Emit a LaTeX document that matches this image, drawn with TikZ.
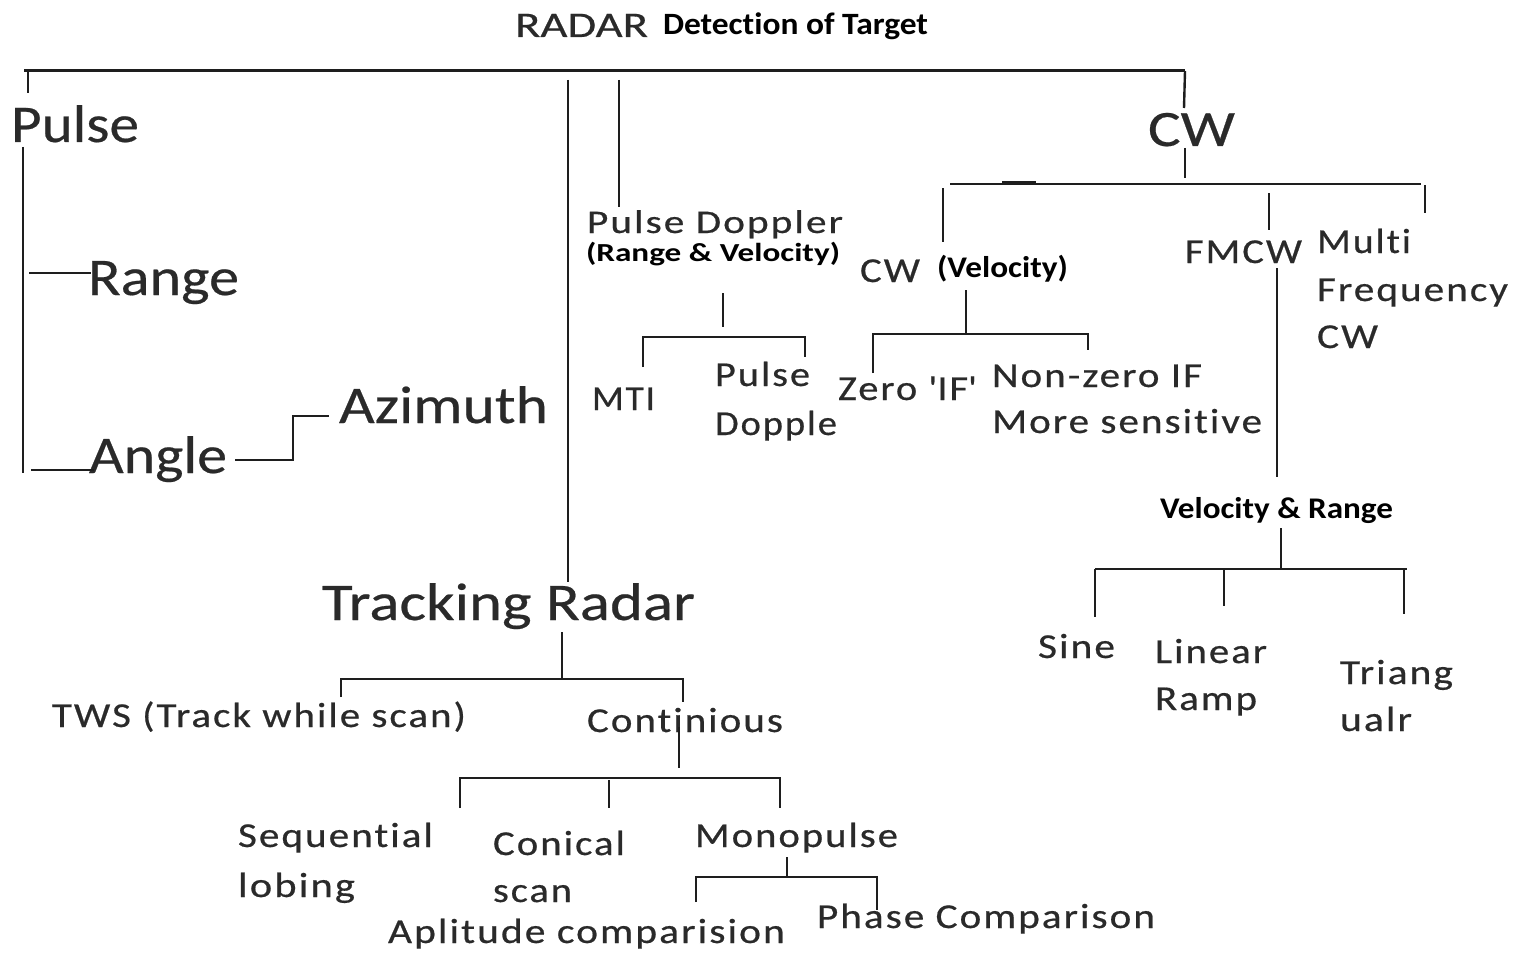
\documentclass[tikz,border=0pt]{standalone}
\usepackage{fontspec}
\usepackage{graphicx}
\setmainfont{Carlito}[Ligatures=NoCommon]
\newfontfamily\medf{Carlito}[LetterSpace=5, Ligatures=NoCommon, FakeBold=0.5]
\newfontfamily\bigf{Carlito}[Ligatures=NoCommon, FakeBold=0.4]
\newcommand\fw[2]{\resizebox{#1pt}{\height}{#2}}
\newcommand\fsz[1]{\fontsize{#1}{#1}\selectfont}
\definecolor{txtc}{HTML}{2A2A2A}
\definecolor{linec}{HTML}{1E1E1E}
\tikzset{
  lbl/.style={anchor=base west, inner sep=0pt, outer sep=0pt, text=txtc},
  bigt/.style={lbl, font=\bigf\fsz{53}},
  medt/.style={lbl, font=\medf\fsz{35}},
  boldt/.style={lbl, text=black},
  conn/.style={draw=linec, line width=2.4pt, line cap=butt, line join=miter},
}
\begin{document}
\begin{tikzpicture}[x=1pt,y=-1pt]
\fill[white] (0,0) rectangle (1515,955);
\useasboundingbox (0,0) rectangle (1515,955);

% ---------- text ----------
\node[lbl, font=\bigf\fsz{36}] (radar) at (515,37) {\fw{133}{RADAR}};
\node[boldt, font=\bfseries\fsz{31}] (det) at (663,35) {\fw{265}{Detection of Target}};

\node[bigt] (pulse) at (11,142) {\fw{128}{Pulse}};
\node[bigt] (range) at (88,295) {\fw{151}{Range}};
\node[bigt] (angle) at (89,473) {\fw{138}{Angle}};
\node[bigt] (azim) at (339,423) {\fw{209}{Azimuth}};
\node[bigt] (track) at (322,620) {\fw{373}{Tracking Radar}};
\node[lbl, font=\bigf\fsz{51}] (cw) at (1148,146) {\fw{87}{CW}};

\node[medt, font=\medf\fsz{33}] (pd) at (587,233) {\fw{256}{Pulse Doppler}};
\node[boldt, font=\bfseries\fsz{26}] (pdrv) at (586,261) {\fw{254}{(Range \& Velocity)}};
\node[medt] (mti) at (592,410) {\fw{63}{MTI}};
\node[medt] (pd2a) at (715,386) {\fw{95}{Pulse}};
\node[medt] (pd2b) at (715,435) {\fw{122}{Dopple}};

\node[medt] (cwv) at (860,282) {\fw{60}{CW}};
\node[boldt, font=\bfseries\fsz{30}] (vel) at (937,277) {\fw{131}{(Velocity)}};
\node[medt] (zero) at (838,400) {\fw{139}{Zero \textquotesingle IF\textquotesingle}};
\node[medt] (nz1) at (992,387) {\fw{210}{Non-zero IF}};
\node[medt] (nz2) at (992,433) {\fw{270}{More sensitive}};

\node[medt] (fmcw) at (1185,263) {\fw{117}{FMCW}};
\node[medt] (mf1) at (1317,253) {\fw{94}{Multi}};
\node[medt] (mf2) at (1317,301) {\fw{191}{Frequency}};
\node[medt] (mf3) at (1317,348) {\fw{61}{CW}};

\node[boldt, font=\bfseries\fsz{30}] (vr) at (1160,518) {\fw{233}{Velocity \& Range}};
\node[medt] (sine) at (1038,658) {\fw{77}{Sine}};
\node[medt] (lin1) at (1155,663) {\fw{112}{Linear}};
\node[medt] (lin2) at (1155,710) {\fw{102}{Ramp}};
\node[medt] (tri1) at (1340,684) {\fw{113}{Triang}};
\node[medt] (tri2) at (1340,731) {\fw{72}{ualr}};

\node[medt] (tws) at (52,727) {\fw{414}{TWS (Track while scan)}};
\node[medt] (cont) at (587,732) {\fw{196}{Continious}};
\node[medt] (seq1) at (238,847) {\fw{195}{Sequential}};
\node[medt] (seq2) at (238,897) {\fw{117}{lobing}};
\node[medt] (con1) at (493,855) {\fw{132}{Conical}};
\node[medt] (con2) at (493,902) {\fw{79}{scan}};
\node[medt] (mono) at (695,847) {\fw{203}{Monopulse}};
\node[medt] (amp) at (388,943) {\fw{397}{Aplitude comparision}};
\node[medt] (phase) at (817,928) {\fw{338}{Phase Comparison}};

% ---------- junction points ----------
\coordinate (topL) at (24,71);
\coordinate (topR) at (1185,71);
\coordinate (tk1) at (28,71);   \coordinate (tk2) at (28,93);
\coordinate (pv1) at (23,147);  \coordinate (pv2) at (23,473);
\coordinate (rg1) at (29,273);  \coordinate (rg2) at (91,273);
\coordinate (an1) at (31,470);  \coordinate (an2) at (94,470);
\coordinate (az1) at (235,460); \coordinate (az2) at (293,460);
\coordinate (az3) at (293,416); \coordinate (az4) at (329,416);
\coordinate (tr1) at (568,80);  \coordinate (tr2) at (568,582);
\coordinate (pdv1) at (619,80); \coordinate (pdv2) at (619,207);
\coordinate (pdb1) at (723,293); \coordinate (pdb2) at (723,327);
\coordinate (pdl) at (643,367); \coordinate (pdlt) at (643,337);
\coordinate (pdrt) at (805,337); \coordinate (pdr) at (805,357);
\coordinate (cwt) at (1184,108);
\coordinate (cwb1) at (1185,148); \coordinate (cwb2) at (1185,178);
\coordinate (cwh1) at (950,184); \coordinate (cwh2) at (1421,184);
\coordinate (cwk1) at (1002,183); \coordinate (cwk2) at (1036,183);
\coordinate (cwl1) at (943,188); \coordinate (cwl2) at (943,242);
\coordinate (fm1) at (1269,193); \coordinate (fm2) at (1269,230);
\coordinate (mf1a) at (1425,185); \coordinate (mf1b) at (1425,213);
\coordinate (fmv1) at (1277,268); \coordinate (fmv2) at (1277,477);
\coordinate (vv1) at (966,290); \coordinate (vv2) at (966,334);
\coordinate (zl) at (873,373); \coordinate (zlt) at (873,334);
\coordinate (zrt) at (1088,334); \coordinate (zr) at (1088,350);
\coordinate (vrv1) at (1281,528); \coordinate (vrv2) at (1281,569);
\coordinate (vrh1) at (1095,569); \coordinate (vrh2) at (1407,569);
\coordinate (sd) at (1095,617);
\coordinate (ld1) at (1224,569); \coordinate (ld2) at (1224,606);
\coordinate (td1) at (1404,569); \coordinate (td2) at (1404,614);
\coordinate (tb1) at (562,632); \coordinate (tb2) at (562,679);
\coordinate (twl) at (341,697); \coordinate (twlt) at (341,679);
\coordinate (ctrt) at (683,679); \coordinate (ctr) at (683,702);
\coordinate (cv1) at (679,727); \coordinate (cv2) at (679,768);
\coordinate (sql) at (460,808); \coordinate (sqlt) at (460,778);
\coordinate (mort) at (780,778); \coordinate (mor) at (780,808);
\coordinate (cn1) at (609,780); \coordinate (cn2) at (609,808);
\coordinate (mv1) at (787,857); \coordinate (mv2) at (787,877);
\coordinate (al) at (696,902); \coordinate (alt) at (696,877);
\coordinate (phrt) at (877,877); \coordinate (phr) at (877,910);

% ---------- connectors ----------
\draw[conn, line width=3pt] (topL) -- (topR);
\draw[conn] (tk1) -- (tk2);
\draw[conn] (pv1) -- (pv2);
\draw[conn] (rg1) -- (rg2);
\draw[conn] (an1) -- (an2);
\draw[conn] (az1) -- (az2) -- (az3) -- (az4);
\draw[conn] (tr1) -- (tr2);
\draw[conn] (pdv1) -- (pdv2);
\draw[conn] (pdb1) -- (pdb2);
\draw[conn] (pdl) -- (pdlt) -- (pdrt) -- (pdr);
\draw[conn] (topR) -- (cwt);
\draw[conn] (cwb1) -- (cwb2);
\draw[conn] (cwh1) -- (cwh2);
\draw[conn, line width=3.5pt] (cwk1) -- (cwk2);
\draw[conn] (cwl1) -- (cwl2);
\draw[conn] (fm1) -- (fm2);
\draw[conn] (mf1a) -- (mf1b);
\draw[conn] (fmv1) -- (fmv2);
\draw[conn] (vv1) -- (vv2);
\draw[conn] (zl) -- (zlt) -- (zrt) -- (zr);
\draw[conn] (vrv1) -- (vrv2);
\draw[conn] (vrh1) -- (vrh2);
\draw[conn] (vrh1) -- (sd);
\draw[conn] (ld1) -- (ld2);
\draw[conn] (td1) -- (td2);
\draw[conn] (tb1) -- (tb2);
\draw[conn] (twl) -- (twlt) -- (ctrt) -- (ctr);
\draw[conn] (cv1) -- (cv2);
\draw[conn] (sql) -- (sqlt) -- (mort) -- (mor);
\draw[conn] (cn1) -- (cn2);
\draw[conn] (mv1) -- (mv2);
\draw[conn] (al) -- (alt) -- (phrt) -- (phr);
\end{tikzpicture}
\end{document}
